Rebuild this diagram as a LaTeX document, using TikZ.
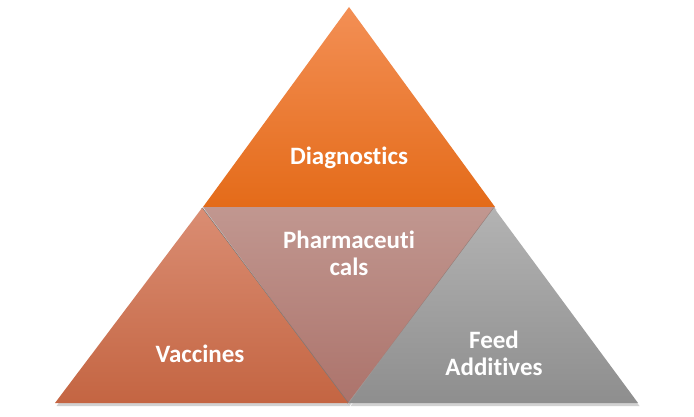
\documentclass[tikz,border=0pt]{standalone}
\usepackage{fontspec}
\setmainfont[Ligatures={NoCommon}]{Carlito}
\begin{document}
\begin{tikzpicture}[x=1pt,y=-1pt,
  lbl/.style={text=white,font=\bfseries\fontsize{25}{27}\selectfont,align=center,inner sep=0pt},
  shad/.style={fill=black,opacity=0.18},
  seam/.style={draw={rgb,255:red,130;green,118;blue,114},line width=1.4pt}]
\useasboundingbox[fill=white] (0,0) rectangle (694,417);
% coordinates
\coordinate (tA) at (349,7);
\coordinate (tL) at (203,207);
\coordinate (tR) at (495,207);
\coordinate (lA) at (202,208);
\coordinate (lL) at (55,403);
\coordinate (lR) at (348,403);
\coordinate (mB) at (348,403);
\coordinate (rA) at (494,208);
\coordinate (rL) at (349,403);
\coordinate (rR) at (638,403);
% shadows
\fill[shad] ([shift={(1.5,3)}]tA) -- ([shift={(1.5,3)}]tR) -- ([shift={(1.5,3)}]tL) -- cycle;
\fill[shad] ([shift={(1.5,3)}]tL) -- ([shift={(1.5,3)}]tR) -- ([shift={(1.5,3)}]mB) -- cycle;
% middle
\shade[top color={rgb,255:red,193;green,151;blue,144},bottom color={rgb,255:red,172;green,115;blue,107}] (tL) -- (tR) -- (mB) -- cycle;
% top
\shade[top color={rgb,255:red,243;green,143;blue,85},bottom color={rgb,255:red,228;green,107;blue,25}] (tA) -- (tR) -- (tL) -- cycle;
% left
\fill[shad] ([shift={(1.5,3)}]lA) -- ([shift={(1.5,3)}]lR) -- ([shift={(1.5,3)}]lL) -- cycle;
\draw[seam] (lA) -- (lR);
\shade[top color={rgb,255:red,218;green,141;blue,115},bottom color={rgb,255:red,196;green,101;blue,66}] (lA) -- (lR) -- (lL) -- cycle;
% right
\fill[shad] ([shift={(1.5,3)}]rA) -- ([shift={(1.5,3)}]rR) -- ([shift={(1.5,3)}]rL) -- cycle;
\draw[seam,draw opacity=0.6] (rA) -- (rL);
\shade[top color={rgb,255:red,179;green,179;blue,179},bottom color={rgb,255:red,142;green,142;blue,142}] (rA) -- (rR) -- (rL) -- cycle;
% labels
\node[lbl,anchor=base] (diag) at (349,165) {Diagnostics};
\node[lbl,anchor=base] (pharm) at (349,275) {Pharmaceuti\\cals};
\node[lbl,anchor=base] (vacc) at (200,362) {Vaccines};
\node[lbl,anchor=base] (feed) at (494,375) {Feed\\Additives};
\end{tikzpicture}
\end{document}
